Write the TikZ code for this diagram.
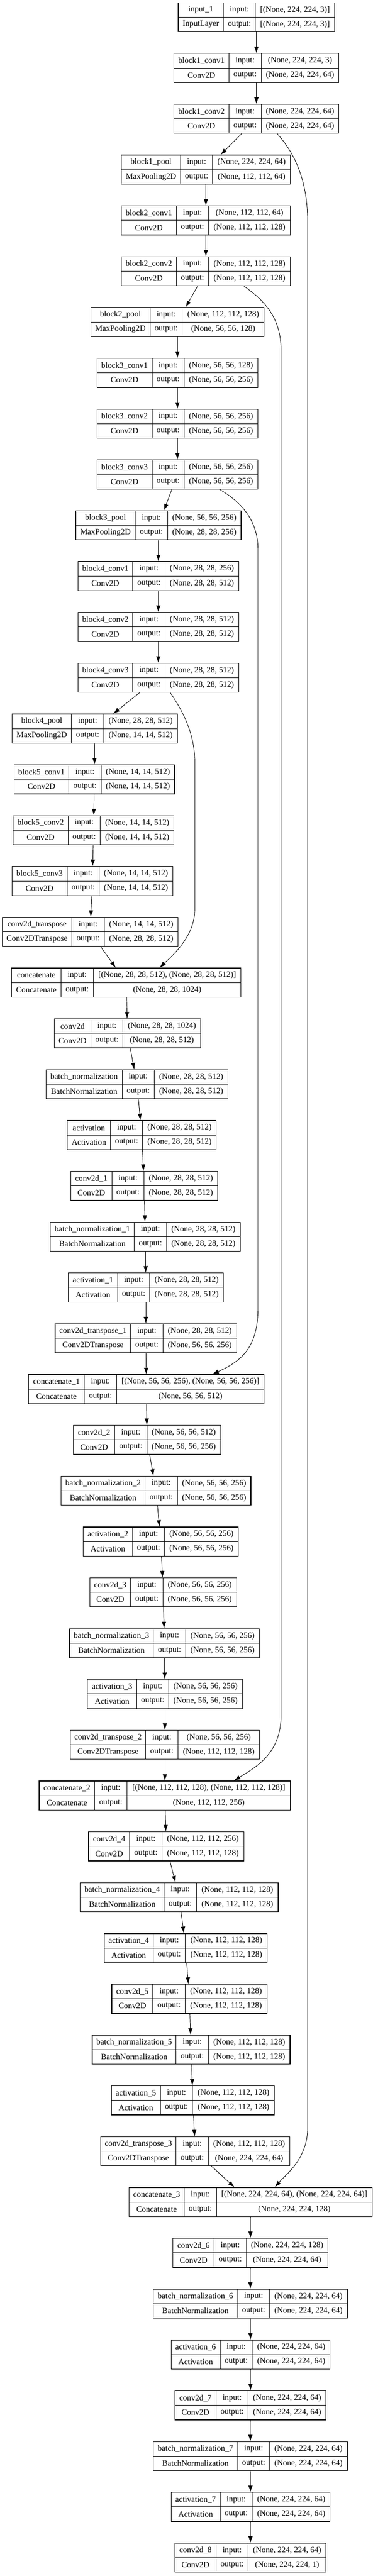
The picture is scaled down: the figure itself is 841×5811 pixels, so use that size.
\documentclass[tikz,border=0pt]{standalone}
\usepackage{fontspec}
\setmainfont{Liberation Serif}
\usetikzlibrary{fit,arrows.meta}

\newcounter{lyr}
\newcommand{\kbox}[9]{%
	\pgfmathsetmacro{\lyrtop}{6+114.62*\the\value{lyr}}%
	\pgfmathsetmacro{\lyrbot}{\lyrtop+65.5}%
	\node[layerbox, fit={(#2,\lyrtop) (#5,\lyrbot)}] (#1) {};
	\draw[cellline] (#1.west) -- (#1.east);
	\draw[cellline] (#3,\lyrtop) -- (#3,\lyrbot);
	\draw[cellline] (#4,\lyrtop) -- (#4,\lyrbot);
	\node[celltext] (#1-n) at ({(#2+#3)/2},{\lyrtop+16.4}) {#6};
	\node[celltext] (#1-c) at ({(#2+#3)/2},{\lyrtop+49.1}) {#7};
	\node[celltext] (#1-i) at ({(#3+#4)/2},{\lyrtop+16.4}) {input:};
	\node[celltext] (#1-o) at ({(#3+#4)/2},{\lyrtop+49.1}) {output:};
	\node[celltext] (#1-x) at ({(#4+#5)/2},{\lyrtop+16.4}) {#8};
	\node[celltext] (#1-y) at ({(#4+#5)/2},{\lyrtop+49.1}) {#9};
	\stepcounter{lyr}%
}

\begin{document}
\begin{tikzpicture}[x=0.75pt, y=-0.75pt,
	layerbox/.style={draw, line width=1.1pt, inner sep=0pt},
	cellline/.style={line width=0.8pt},
	celltext/.style={inner sep=0pt, font=\fontsize{13.85}{16}\selectfont},
	flow/.style={line width=0.8pt, arrows={-{Latex[length=11pt,width=7.5pt]}}}]

		\fill[white] (0,0) rectangle (841,5811);
		\useasboundingbox (0,0) rectangle (841,5811);

		\kbox{IN}{402.2}{504.0}{576.3}{754.7}{input\_1}{InputLayer}{[(None, 224, 224, 3)]}{[(None, 224, 224, 3)]}
		\kbox{B1C1}{392.5}{516.4}{589.2}{764.4}{block1\_conv1}{Conv2D}{(None, 224, 224, 3)}{(None, 224, 224, 64)}
		\kbox{B1C2}{392.5}{516.4}{589.2}{764.4}{block1\_conv2}{Conv2D}{(None, 224, 224, 64)}{(None, 224, 224, 64)}
		\kbox{B1P}{273.9}{407.5}{479.8}{655.0}{block1\_pool}{MaxPooling2D}{(None, 224, 224, 64)}{(None, 112, 112, 64)}
		\kbox{B2C1}{273.9}{397.8}{470.6}{655.0}{block2\_conv1}{Conv2D}{(None, 112, 112, 64)}{(None, 112, 112, 128)}
		\kbox{B2C2}{273.9}{397.8}{470.6}{655.0}{block2\_conv2}{Conv2D}{(None, 112, 112, 128)}{(None, 112, 112, 128)}
		\kbox{B2P}{204.9}{338.5}{411.3}{595.7}{block2\_pool}{MaxPooling2D}{(None, 112, 112, 128)}{(None, 56, 56, 128)}
		\kbox{B3C1}{218.9}{342.9}{415.6}{581.7}{block3\_conv1}{Conv2D}{(None, 56, 56, 128)}{(None, 56, 56, 256)}
		\kbox{B3C2}{218.9}{342.9}{415.6}{581.7}{block3\_conv2}{Conv2D}{(None, 56, 56, 256)}{(None, 56, 56, 256)}
		\kbox{B3C3}{218.9}{342.9}{415.6}{581.7}{block3\_conv3}{Conv2D}{(None, 56, 56, 256)}{(None, 56, 56, 256)}
		\kbox{B3P}{170.9}{305.1}{377.9}{543.9}{block3\_pool}{MaxPooling2D}{(None, 56, 56, 256)}{(None, 28, 28, 256)}
		\kbox{B4C1}{175.7}{299.7}{372.5}{538.5}{block4\_conv1}{Conv2D}{(None, 28, 28, 256)}{(None, 28, 28, 512)}
		\kbox{B4C2}{175.7}{299.7}{372.5}{538.5}{block4\_conv2}{Conv2D}{(None, 28, 28, 512)}{(None, 28, 28, 512)}
		\kbox{B4C3}{175.7}{299.7}{372.5}{538.5}{block4\_conv3}{Conv2D}{(None, 28, 28, 512)}{(None, 28, 28, 512)}
		\kbox{B4P}{27.5}{161.2}{234.5}{400.0}{block4\_pool}{MaxPooling2D}{(None, 28, 28, 512)}{(None, 14, 14, 512)}
		\kbox{B5C1}{31.8}{155.3}{228.0}{394.1}{block5\_conv1}{Conv2D}{(None, 14, 14, 512)}{(None, 14, 14, 512)}
		\kbox{B5C2}{29.6}{153.6}{226.4}{392.5}{block5\_conv2}{Conv2D}{(None, 14, 14, 512)}{(None, 14, 14, 512)}
		\kbox{B5C3}{27.0}{151.5}{223.7}{389.8}{block5\_conv3}{Conv2D}{(None, 14, 14, 512)}{(None, 14, 14, 512)}

		\kbox{UP0}{4.9}{162.3}{235.6}{401.6}{conv2d\_transpose}{Conv2DTranspose}{(None, 14, 14, 512)}{(None, 28, 28, 512)}
		\kbox{CC0}{26.4}{137.5}{210.8}{543.4}{concatenate}{Concatenate}{[(None, 28, 28, 512), (None, 28, 28, 512)]}{(None, 28, 28, 1024)}
		\kbox{CV0}{122.4}{204.9}{277.6}{452.8}{conv2d}{Conv2D}{(None, 28, 28, 1024)}{(None, 28, 28, 512)}
		\kbox{BN0}{104.0}{275.5}{348.2}{514.3}{batch\_normalization}{BatchNormalization}{(None, 28, 28, 512)}{(None, 28, 28, 512)}
		\kbox{AC0}{151.5}{249.6}{321.8}{487.9}{activation}{Activation}{(None, 28, 28, 512)}{(None, 28, 28, 512)}
		\kbox{CV1}{159.6}{252.3}{325.1}{491.1}{conv2d\_1}{Conv2D}{(None, 28, 28, 512)}{(None, 28, 28, 512)}
		\kbox{BN1}{113.7}{303.0}{375.7}{541.8}{batch\_normalization\_1}{BatchNormalization}{(None, 28, 28, 512)}{(None, 28, 28, 512)}
		\kbox{AC1}{154.2}{265.2}{338.0}{504.0}{activation\_1}{Activation}{(None, 28, 28, 512)}{(None, 28, 28, 512)}

		\kbox{UP1}{124.5}{294.9}{367.7}{533.7}{conv2d\_transpose\_1}{Conv2DTranspose}{(None, 28, 28, 512)}{(None, 56, 56, 256)}
		\kbox{CC1}{64.7}{190.3}{263.1}{595.7}{concatenate\_1}{Concatenate}{[(None, 56, 56, 256), (None, 56, 56, 256)]}{(None, 56, 56, 512)}
		\kbox{CV2}{166.0}{258.8}{331.5}{497.6}{conv2d\_2}{Conv2D}{(None, 56, 56, 512)}{(None, 56, 56, 256)}
		\kbox{BN2}{138.0}{327.2}{400.0}{566.0}{batch\_normalization\_2}{BatchNormalization}{(None, 56, 56, 256)}{(None, 56, 56, 256)}
		\kbox{AC2}{188.1}{298.7}{371.4}{537.5}{activation\_2}{Activation}{(None, 56, 56, 256)}{(None, 56, 56, 256)}
		\kbox{CV3}{202.7}{294.9}{367.7}{533.7}{conv2d\_3}{Conv2D}{(None, 56, 56, 256)}{(None, 56, 56, 256)}
		\kbox{BN3}{156.9}{346.1}{418.9}{584.9}{batch\_normalization\_3}{BatchNormalization}{(None, 56, 56, 256)}{(None, 56, 56, 256)}
		\kbox{AC3}{197.3}{308.4}{380.6}{546.6}{activation\_3}{Activation}{(None, 56, 56, 256)}{(None, 56, 56, 256)}

		\kbox{UP2}{158.5}{328.8}{401.6}{585.4}{conv2d\_transpose\_2}{Conv2DTranspose}{(None, 56, 56, 256)}{(None, 112, 112, 128)}
		\kbox{CC2}{88.4}{213.5}{286.3}{655.5}{concatenate\_2}{Concatenate}{[(None, 112, 112, 128), (None, 112, 112, 128)]}{(None, 112, 112, 256)}
		\kbox{CV4}{200.0}{292.7}{365.5}{549.9}{conv2d\_4}{Conv2D}{(None, 112, 112, 256)}{(None, 112, 112, 128)}
		\kbox{BN4}{181.1}{370.4}{443.1}{627.5}{batch\_normalization\_4}{BatchNormalization}{(None, 112, 112, 128)}{(None, 112, 112, 128)}
		\kbox{AC4}{235.0}{345.6}{418.3}{602.7}{activation\_4}{Activation}{(None, 112, 112, 128)}{(None, 112, 112, 128)}
		\kbox{CV5}{252.3}{345.0}{417.8}{602.2}{conv2d\_5}{Conv2D}{(None, 112, 112, 128)}{(None, 112, 112, 128)}
		\kbox{BN5}{208.1}{397.3}{470.1}{654.4}{batch\_normalization\_5}{BatchNormalization}{(None, 112, 112, 128)}{(None, 112, 112, 128)}
		\kbox{AC5}{251.2}{361.7}{434.5}{618.9}{activation\_5}{Activation}{(None, 112, 112, 128)}{(None, 112, 112, 128)}

		\kbox{UP3}{227.0}{397.3}{470.1}{653.9}{conv2d\_transpose\_3}{Conv2DTranspose}{(None, 112, 112, 128)}{(None, 224, 224, 64)}
		\kbox{CC3}{291.1}{415.6}{488.4}{839.4}{concatenate\_3}{Concatenate}{[(None, 224, 224, 64), (None, 224, 224, 64)]}{(None, 224, 224, 128)}
		\kbox{CV6}{390.3}{483.0}{555.8}{739.6}{conv2d\_6}{Conv2D}{(None, 224, 224, 128)}{(None, 224, 224, 64)}
		\kbox{BN6}{346.1}{535.8}{608.6}{783.3}{batch\_normalization\_6}{BatchNormalization}{(None, 224, 224, 64)}{(None, 224, 224, 64)}
		\kbox{AC6}{386.0}{496.5}{569.3}{744.5}{activation\_6}{Activation}{(None, 224, 224, 64)}{(None, 224, 224, 64)}
		\kbox{CV7}{394.6}{487.3}{560.1}{735.3}{conv2d\_7}{Conv2D}{(None, 224, 224, 64)}{(None, 224, 224, 64)}
		\kbox{BN7}{346.1}{535.8}{608.6}{783.3}{batch\_normalization\_7}{BatchNormalization}{(None, 224, 224, 64)}{(None, 224, 224, 64)}
		\kbox{AC7}{386.0}{496.5}{569.3}{744.5}{activation\_7}{Activation}{(None, 224, 224, 64)}{(None, 224, 224, 64)}
		\kbox{CV8}{394.6}{487.3}{560.1}{735.3}{conv2d\_8}{Conv2D}{(None, 224, 224, 64)}{(None, 224, 224, 1)}

		\draw [flow] (IN) -- (B1C1);
		\draw [flow] (B1C1) -- (B1C2);
		\draw [flow] (B1C2) -- (B1P);
		\draw [flow] (B1P) -- (B2C1);
		\draw [flow] (B2C1) -- (B2C2);
		\draw [flow] (B2C2) -- (B2P);
		\draw [flow] (B2P) -- (B3C1);
		\draw [flow] (B3C1) -- (B3C2);
		\draw [flow] (B3C2) -- (B3C3);
		\draw [flow] (B3C3) -- (B3P);
		\draw [flow] (B3P) -- (B4C1);
		\draw [flow] (B4C1) -- (B4C2);
		\draw [flow] (B4C2) -- (B4C3);
		\draw [flow] (B4C3) -- (B4P);
		\draw [flow] (B4P) -- (B5C1);
		\draw [flow] (B5C1) -- (B5C2);
		\draw [flow] (B5C2) -- (B5C3);
		\draw [flow] (B5C3) -- (UP0);
		\draw [flow] (UP0) -- (CC0);
		\draw [flow] (CC0) -- (CV0);
		\draw [flow] (CV0) -- (BN0);
		\draw [flow] (BN0) -- (AC0);
		\draw [flow] (AC0) -- (CV1);
		\draw [flow] (CV1) -- (BN1);
		\draw [flow] (BN1) -- (AC1);
		\draw [flow] (AC1) -- (UP1);
		\draw [flow] (UP1) -- (CC1);
		\draw [flow] (CC1) -- (CV2);
		\draw [flow] (CV2) -- (BN2);
		\draw [flow] (BN2) -- (AC2);
		\draw [flow] (AC2) -- (CV3);
		\draw [flow] (CV3) -- (BN3);
		\draw [flow] (BN3) -- (AC3);
		\draw [flow] (AC3) -- (UP2);
		\draw [flow] (UP2) -- (CC2);
		\draw [flow] (CC2) -- (CV4);
		\draw [flow] (CV4) -- (BN4);
		\draw [flow] (BN4) -- (AC4);
		\draw [flow] (AC4) -- (CV5);
		\draw [flow] (CV5) -- (BN5);
		\draw [flow] (BN5) -- (AC5);
		\draw [flow] (AC5) -- (UP3);
		\draw [flow] (UP3) -- (CC3);
		\draw [flow] (CC3) -- (CV6);
		\draw [flow] (CV6) -- (BN6);
		\draw [flow] (BN6) -- (AC6);
		\draw [flow] (AC6) -- (CV7);
		\draw [flow] (CV7) -- (BN7);
		\draw [flow] (BN7) -- (AC7);
		\draw [flow] (AC7) -- (CV8);

		\coordinate (K1a) at (694,500);
		\coordinate (K1b) at (694,4800);
		\coordinate (K2a) at (634,790);
		\coordinate (K2b) at (634,3870);
		\coordinate (K3a) at (582,1240);
		\coordinate (K3b) at (582,2950);
		\coordinate (K4a) at (439.5,1720);
		\coordinate (K4b) at (439.5,2050);

		\draw [flow] ([xshift=35.1pt]B1C2.south) .. controls (660,340) and (694,400) .. (K1a) -- (K1b) .. controls (694,4870) and (645,4905) .. ([xshift=41.1pt]CC3.north);
		\draw [flow] ([xshift=64.2pt]B2C2.south) .. controls (600,680) and (634,720) .. (K2a) -- (K2b) .. controls (634,3960) and (570,3990) .. ([xshift=117pt]CC2.north);
		\draw [flow] ([xshift=71pt]B3C3.south) .. controls (540,1130) and (582,1170) .. (K3a) -- (K3b) .. controls (582,3040) and (545,3070) .. ([xshift=111.6pt]CC1.north);
		\draw [flow] ([xshift=20.2pt]B4C3.south) .. controls (408,1598) and (439.5,1650) .. (K4a) -- (K4b) .. controls (439.5,2110) and (395,2150) .. ([xshift=56.3pt]CC0.north);
	\end{tikzpicture}
\end{document}
